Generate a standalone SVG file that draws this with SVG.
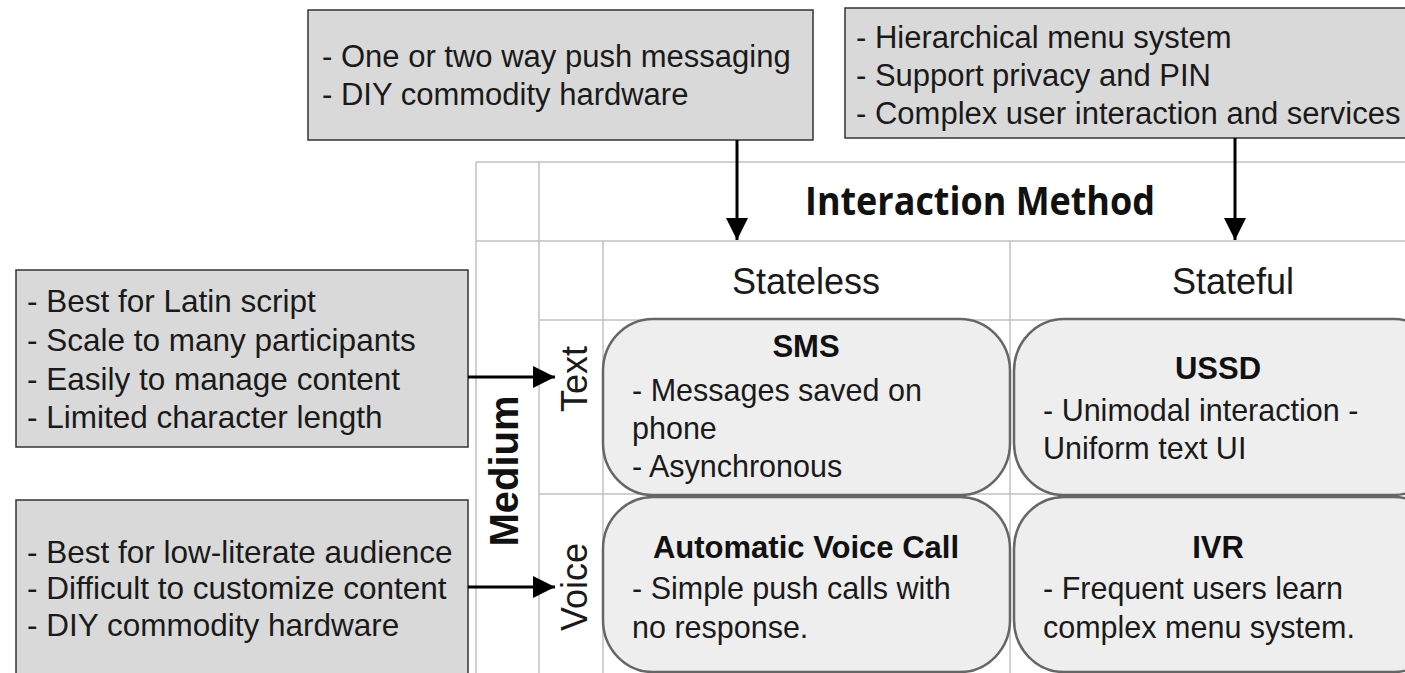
<svg xmlns="http://www.w3.org/2000/svg" width="1405" height="673" viewBox="0 0 1405 673">
<defs>
<style>
.note{fill:#d9d9d9;stroke:#333;stroke-width:1.5}
.cell{fill:#eeeeee;stroke:#666;stroke-width:2.5}
.grid{stroke:#c0c0c0;stroke-width:1.5;fill:none}
.t{font-family:"Liberation Sans",Arial,sans-serif;font-size:30.5px;fill:#1a1a1a}
.n{font-size:31.5px}
.m{font-size:31px}
.b{font-family:"Liberation Sans",Arial,sans-serif;font-size:31px;font-weight:bold;fill:#111}
.h{font-family:"Liberation Sans",Arial,sans-serif;font-size:36px;fill:#1a1a1a}
.c{text-anchor:middle}
.conn{stroke:#000;stroke-width:3;fill:none;marker-end:url(#ah)}
</style>
<marker id="ah" viewBox="0 0 10 10" refX="10" refY="5" markerUnits="userSpaceOnUse" markerWidth="22" markerHeight="32" orient="auto">
<path d="M0,0 L10,5 L0,10 z" fill="#000"/>
</marker>
</defs>
<rect width="1405" height="673" fill="#fff"/>
<g id="grid">
<line class="grid" x1="476" y1="162" x2="1405" y2="162"/>
<line class="grid" x1="476" y1="241" x2="1405" y2="241"/>
<line class="grid" x1="539" y1="320" x2="1405" y2="320"/>
<line class="grid" x1="539" y1="494" x2="1405" y2="494"/>
<line class="grid" x1="476" y1="162" x2="476" y2="673"/>
<line class="grid" x1="539" y1="162" x2="539" y2="673"/>
<line class="grid" x1="603" y1="241" x2="603" y2="673"/>
<line class="grid" x1="1010" y1="241" x2="1010" y2="673"/>
</g>
<g id="headers">
<text x="980" y="215" font-family="'Open Sans',sans-serif" font-weight="700" font-size="39" fill="#111" text-anchor="middle" textLength="350" lengthAdjust="spacingAndGlyphs">Interaction Method</text>
<text class="h c" x="806" y="294">Stateless</text>
<text class="h c" x="1233" y="294">Stateful</text>
<text class="b c" transform="translate(518,471) rotate(-90)" style="font-size:40px">Medium</text>
<text class="h c" transform="translate(587,379) rotate(-90)">Text</text>
<text class="h c" transform="translate(587,587) rotate(-90)">Voice</text>
</g>
<g id="note-top-1">
<rect class="note" x="308" y="10" width="505" height="130"/>
<text class="t m" x="322" y="67">- One or two way push messaging</text>
<text class="t m" x="322" y="105">- DIY commodity hardware</text>
</g>
<g id="note-top-2">
<rect class="note" x="845" y="8" width="580" height="130"/>
<text class="t m" x="856" y="48">- Hierarchical menu system</text>
<text class="t m" x="856" y="86">- Support privacy and PIN</text>
<text class="t m" x="856" y="124">- Complex user interaction and services</text>
</g>
<g id="note-left-1">
<rect class="note" x="16" y="270" width="452" height="177"/>
<text class="t n" x="27" y="312">- Best for Latin script</text>
<text class="t n" x="27" y="351">- Scale to many participants</text>
<text class="t n" x="27" y="390">- Easily to manage content</text>
<text class="t n" x="27" y="428">- Limited character length</text>
</g>
<g id="note-left-2">
<rect class="note" x="16" y="500" width="452" height="190"/>
<text class="t n" x="27" y="563">- Best for low-literate audience</text>
<text class="t n" x="27" y="599">- Difficult to customize content</text>
<text class="t n" x="27" y="636">- DIY commodity hardware</text>
</g>
<g id="sms">
<rect class="cell" x="603" y="319" width="407" height="176" rx="50" ry="52"/>
<text class="b c" x="806" y="357">SMS</text>
<text class="t" x="632" y="401">- Messages saved on</text>
<text class="t" x="632" y="439">phone</text>
<text class="t" x="632" y="477">- Asynchronous</text>
</g>
<g id="ussd">
<rect class="cell" x="1014" y="319" width="430" height="176" rx="50" ry="52"/>
<text class="b c" x="1218" y="379">USSD</text>
<text class="t" x="1043" y="421">- Unimodal interaction -</text>
<text class="t" x="1043" y="459">Uniform text UI</text>
</g>
<g id="avc">
<rect class="cell" x="603" y="497" width="407" height="175" rx="50" ry="52"/>
<text class="b c" x="806" y="558">Automatic Voice Call</text>
<text class="t" x="632" y="599">- Simple push calls with</text>
<text class="t" x="632" y="638">no response.</text>
</g>
<g id="ivr">
<rect class="cell" x="1014" y="497" width="430" height="175" rx="50" ry="52"/>
<text class="b c" x="1218" y="558">IVR</text>
<text class="t" x="1043" y="599">- Frequent users learn</text>
<text class="t" x="1043" y="638">complex menu system.</text>
</g>
<g id="connectors">
<line class="conn" x1="737" y1="140" x2="737" y2="240"/>
<line class="conn" x1="1235" y1="138" x2="1235" y2="240"/>
<line class="conn" x1="468" y1="377" x2="555" y2="377"/>
<line class="conn" x1="468" y1="587" x2="555" y2="587"/>
</g>
</svg>
